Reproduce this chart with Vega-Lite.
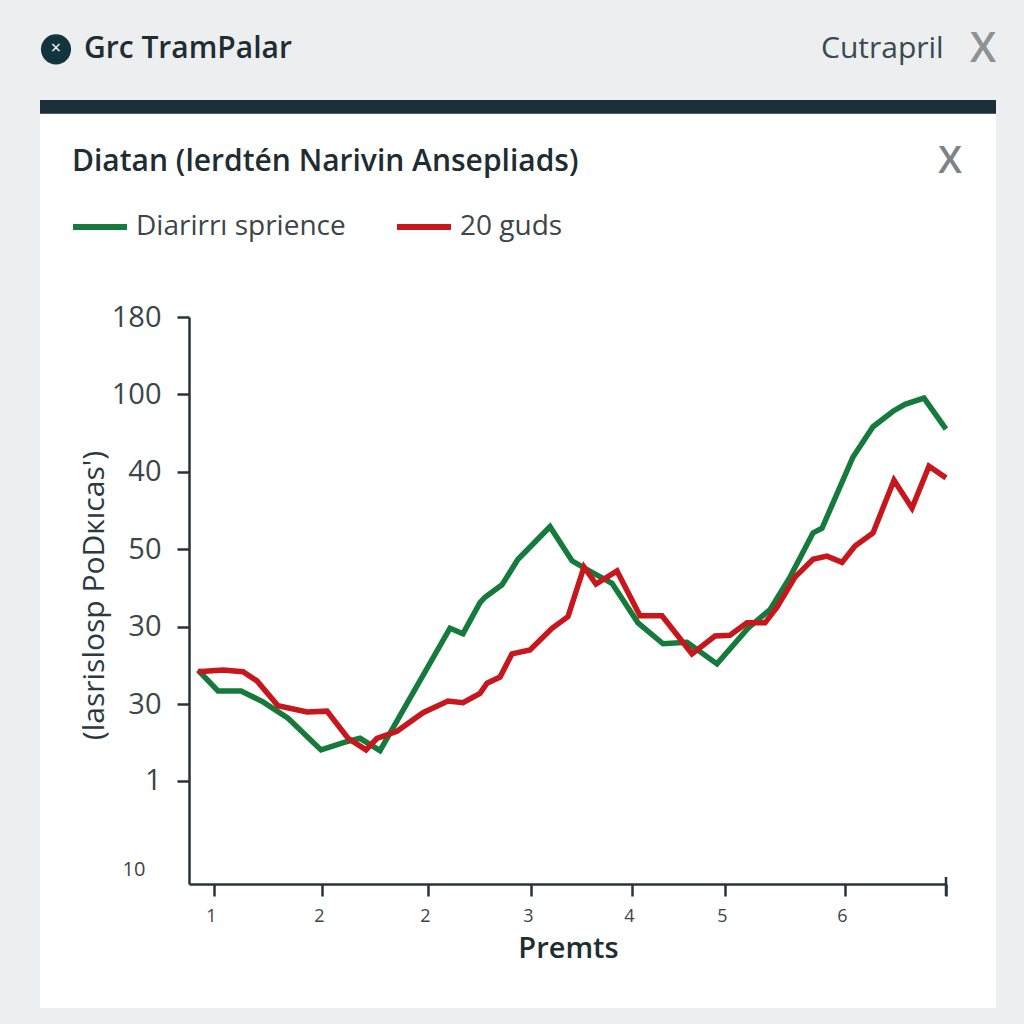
{
"$schema":"https://vega.github.io/schema/vega-lite/v6.json",
"width":757,"height":567,
"autosize":{"type":"none"},
"padding":{"left":189,"top":317,"right":78,"bottom":140},
"background":"#eceef0",
"config":{"view":{"stroke":null},"font":"Open Sans"},
"datasets":{
"panels":[{"part":"panel","x":-1.49,"x2":8.07,"y":-1.6,"y2":9.94,"c":"#ffffff"},{"part":"bar","x":-1.49,"x2":8.07,"y":9.94,"y2":10.116,"c":"#1b2f38"}],
"series":[
{"s":"Diarirrı sprience","x":0.09,"y":2.76},{"s":"Diarirrı sprience","x":0.29,"y":2.49},{"s":"Diarirrı sprience","x":0.52,"y":2.49},{"s":"Diarirrı sprience","x":0.74,"y":2.35},{"s":"Diarirrı sprience","x":0.99,"y":2.14},{"s":"Diarirrı sprience","x":1.32,"y":1.73},{"s":"Diarirrı sprience","x":1.56,"y":1.83},{"s":"Diarirrı sprience","x":1.71,"y":1.88},{"s":"Diarirrı sprience","x":1.91,"y":1.72},{"s":"Diarirrı sprience","x":2.61,"y":3.30},{"s":"Diarirrı sprience","x":2.74,"y":3.23},{"s":"Diarirrı sprience","x":2.91,"y":3.63},{"s":"Diarirrı sprience","x":2.96,"y":3.70},{"s":"Diarirrı sprience","x":3.13,"y":3.86},{"s":"Diarirrı sprience","x":3.29,"y":4.19},{"s":"Diarirrı sprience","x":3.61,"y":4.61},{"s":"Diarirrı sprience","x":3.83,"y":4.17},{"s":"Diarirrı sprience","x":3.99,"y":4.05},{"s":"Diarirrı sprience","x":4.23,"y":3.88},{"s":"Diarirrı sprience","x":4.49,"y":3.37},{"s":"Diarirrı sprience","x":4.74,"y":3.10},{"s":"Diarirrı sprience","x":4.98,"y":3.12},{"s":"Diarirrı sprience","x":5.28,"y":2.84},{"s":"Diarirrı sprience","x":5.59,"y":3.30},{"s":"Diarirrı sprience","x":5.81,"y":3.54},{"s":"Diarirrı sprience","x":6.01,"y":3.96},{"s":"Diarirrı sprience","x":6.24,"y":4.53},{"s":"Diarirrı sprience","x":6.33,"y":4.59},{"s":"Diarirrı sprience","x":6.64,"y":5.51},{"s":"Diarirrı sprience","x":6.84,"y":5.90},{"s":"Diarirrı sprience","x":7.04,"y":6.10},{"s":"Diarirrı sprience","x":7.16,"y":6.19},{"s":"Diarirrı sprience","x":7.35,"y":6.27},{"s":"Diarirrı sprience","x":7.57,"y":5.87},
{"s":"20 guds","x":0.09,"y":2.74},{"s":"20 guds","x":0.34,"y":2.76},{"s":"20 guds","x":0.54,"y":2.74},{"s":"20 guds","x":0.68,"y":2.62},{"s":"20 guds","x":0.89,"y":2.30},{"s":"20 guds","x":1.18,"y":2.22},{"s":"20 guds","x":1.38,"y":2.23},{"s":"20 guds","x":1.59,"y":1.88},{"s":"20 guds","x":1.77,"y":1.73},{"s":"20 guds","x":1.88,"y":1.88},{"s":"20 guds","x":2.08,"y":1.97},{"s":"20 guds","x":2.34,"y":2.21},{"s":"20 guds","x":2.59,"y":2.36},{"s":"20 guds","x":2.74,"y":2.34},{"s":"20 guds","x":2.91,"y":2.46},{"s":"20 guds","x":2.98,"y":2.59},{"s":"20 guds","x":3.11,"y":2.67},{"s":"20 guds","x":3.23,"y":2.97},{"s":"20 guds","x":3.41,"y":3.02},{"s":"20 guds","x":3.63,"y":3.30},{"s":"20 guds","x":3.79,"y":3.45},{"s":"20 guds","x":3.95,"y":4.09},{"s":"20 guds","x":4.07,"y":3.87},{"s":"20 guds","x":4.28,"y":4.04},{"s":"20 guds","x":4.51,"y":3.46},{"s":"20 guds","x":4.73,"y":3.46},{"s":"20 guds","x":5.03,"y":2.97},{"s":"20 guds","x":5.26,"y":3.20},{"s":"20 guds","x":5.41,"y":3.21},{"s":"20 guds","x":5.58,"y":3.37},{"s":"20 guds","x":5.76,"y":3.37},{"s":"20 guds","x":5.88,"y":3.57},{"s":"20 guds","x":6.06,"y":3.96},{"s":"20 guds","x":6.24,"y":4.19},{"s":"20 guds","x":6.38,"y":4.23},{"s":"20 guds","x":6.53,"y":4.15},{"s":"20 guds","x":6.66,"y":4.36},{"s":"20 guds","x":6.84,"y":4.53},{"s":"20 guds","x":7.05,"y":5.21},{"s":"20 guds","x":7.23,"y":4.85},{"s":"20 guds","x":7.40,"y":5.39},{"s":"20 guds","x":7.57,"y":5.24}
]},
"encoding":{
  "x":{"field":"x","type":"quantitative","scale":{"domain":[0,7.57]},
   "axis":{"zindex":1,"grid":false,"values":[0.25,1.33,2.39,3.42,4.43,5.36,6.56,7.57],
    "labelExpr":"datum.value<0.5?'1':datum.value<3?'2':datum.value<4?'3':datum.value<5?'4':datum.value<6?'5':datum.value<7?'6':''",
    "labelFont":"Open Sans","labelFontSize":18,"labelColor":"#3c4549","labelPadding":11,"labelOffset":-3,"labelOverlap":false,"labelFlush":false,
    "tickSize":12,"tickWidth":2.5,"tickColor":"#27343a","domainColor":"#27343a","domainWidth":2.5,
    "title":"Premts","titleFont":"Open Sans","titleFontSize":29,"titleFontWeight":600,"titleColor":"#1f2d33","titleX":379,"titleY":50,"titleAnchor":"middle"}},
  "y":{"field":"y","type":"quantitative","scale":{"domain":[0,7.316]},
   "axis":{"zindex":1,"grid":false,"values":[1.33,2.32,3.32,4.32,5.32,6.32,7.316],
    "labelExpr":"datum.value<2?'1':datum.value<3?'30':datum.value<4?'30':datum.value<5?'50':datum.value<6?'40':datum.value<7?'100':'180'",
    "labelFont":"Open Sans","labelFontSize":29,"labelColor":"#3c4549","labelPadding":16,"labelOverlap":false,"labelFlush":false,
    "tickSize":12,"tickWidth":2.5,"tickColor":"#27343a","domainColor":"#27343a","domainWidth":2.5,
    "title":"(lasrislosp PoDкıcas')","titleFont":"Open Sans","titleFontSize":30,"titleFontWeight":400,"titleColor":"#2b3a40","titleX":-80,"titleY":278,"titleAngle":-90,"titleAnchor":"middle"}}
},
"layer":[
{"data":{"name":"panels"},"mark":{"type":"rect"},
 "encoding":{"x2":{"field":"x2"},"y2":{"field":"y2"},"fill":{"field":"c","type":"nominal","scale":null,"legend":null}}},
{"data":{"name":"series"},"mark":{"type":"line","strokeWidth":5.5,"strokeJoin":"miter","strokeCap":"butt"},
 "encoding":{
  "color":{"field":"s","type":"nominal","sort":null,"scale":{"domain":["Diarirrı sprience","20 guds"],"range":["#157a3c","#c8161d"]},
   "legend":{"orient":"none","legendX":-119,"legendY":-120,"direction":"horizontal","columns":2,"title":null,"symbolType":"stroke","symbolSize":2916,"symbolStrokeWidth":6,"labelFont":"Open Sans","labelFontSize":28,"labelColor":"#3c4549","labelOffset":6,"columnPadding":39,"labelLimit":400}}
 }},
{"data":{"values":[{"x":7.57,"y":0.09,"y2":-0.155}]},"mark":{"type":"rule","strokeWidth":2.5,"color":"#27343a"},
 "encoding":{"y2":{"field":"y2"}}},
{"data":{"values":[{"x":-1.33,"y":10.77}]},"mark":{"type":"point","filled":true,"size":908,"color":"#12343f","opacity":1}},
{"data":{"values":[{"x":-1.33,"y":10.77,"t":"×"}]},"mark":{"type":"text","fontSize":18,"color":"#ffffff","align":"center","baseline":"middle","font":"Open Sans"},
 "encoding":{"text":{"field":"t"}}},
{"data":{"values":[{"x":-1.05,"y":10.77,"t":"Grc TramPalar"}]},"mark":{"type":"text","fontSize":30,"fontWeight":600,"color":"#1f2d33","align":"left","baseline":"middle","font":"Open Sans"},
 "encoding":{"text":{"field":"t"}}},
{"data":{"values":[{"x":-1.17,"y":9.31,"t":"Diatan (lerdtén Narivin Ansepliads)"}]},"mark":{"type":"text","fontSize":30,"fontWeight":600,"color":"#1f2d33","align":"left","baseline":"middle","font":"Open Sans"},
 "encoding":{"text":{"field":"t"}}},
{"data":{"values":[{"x":6.32,"y":10.77,"t":"Cutrapril"}]},"mark":{"type":"text","fontSize":30,"color":"#3a4a50","align":"left","baseline":"middle","font":"Open Sans"},
 "encoding":{"text":{"field":"t"}}},
{"data":{"values":[{"x":7.94,"y":10.77,"t":"X"}]},"mark":{"type":"text","fontSize":42,"fontWeight":600,"color":"#8f9193","align":"center","baseline":"middle","font":"Open Sans"},
 "encoding":{"text":{"field":"t"}}},
{"data":{"values":[{"x":7.61,"y":9.32,"t":"X"}]},"mark":{"type":"text","fontSize":38,"fontWeight":600,"color":"#7f8385","align":"center","baseline":"middle","font":"Open Sans"},
 "encoding":{"text":{"field":"t"}}},
{"data":{"values":[{"x":-0.55,"y":0.18,"t":"10"}]},"mark":{"type":"text","fontSize":20,"color":"#3c4549","align":"center","baseline":"middle","font":"Open Sans"},
 "encoding":{"text":{"field":"t"}}}
]
}
